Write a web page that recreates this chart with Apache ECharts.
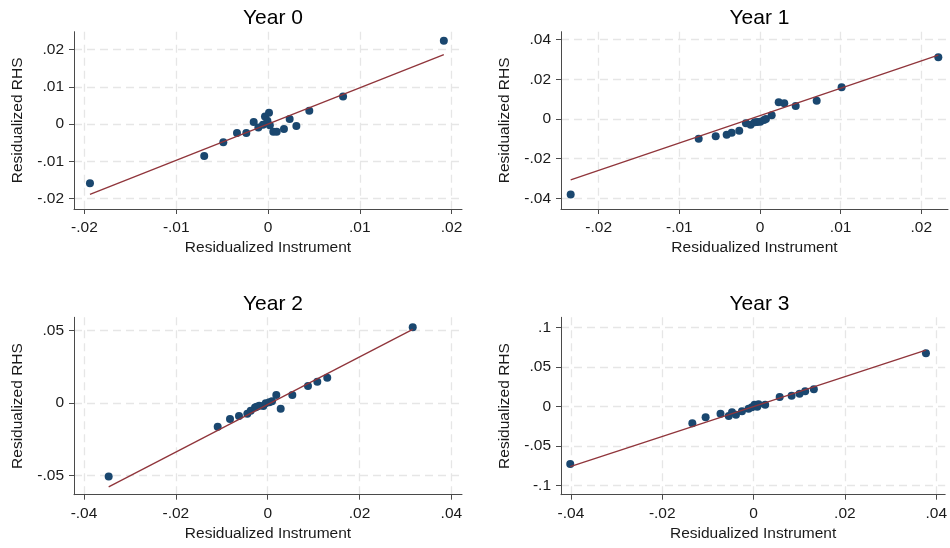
<!DOCTYPE html>
<html>
<head>
<meta charset="utf-8">
<script src="https://cdn.jsdelivr.net/npm/echarts@6/dist/echarts.min.js"></script>
<style>
  html, body { margin: 0; padding: 0; background: #ffffff; }
  #chart { width: 950px; height: 548px; }
</style>
</head>
<body>
<div id="chart"></div>
<script>
// Panel titles
const panelTitles = ['Year 0', 'Year 1', 'Year 2', 'Year 3'];

// Residualized instrument (x) and residualized RHS (y), one pair per year
const yr0X = [-0.0194, -0.00695, -0.00487, -0.00338, -0.00236, -0.00156, -0.00105, -0.00055, -0.00033, -0.00007, 0.00011, 0.0002, 0.00058, 0.00095, 0.00174, 0.00236, 0.00309, 0.0045, 0.00818, 0.01916];
const yr0Y = [-0.0159, -0.00857, -0.00491, -0.00241, -0.00241, 0.00054, -0.00089, -0.0002, 0.00205, 0.00089, 0.00304, -0.0003, -0.00207, -0.00207, -0.00134, 0.00134, -0.00054, 0.00357, 0.00741, 0.0224];

const yr1X = [-0.02347, -0.0076, -0.00549, -0.00413, -0.00351, -0.00257, -0.00174, -0.00116, -0.00066, -0.00033, 0.00004, 0.0005, 0.00074, 0.00145, 0.00232, 0.00301, 0.00443, 0.00703, 0.01012, 0.02211];
const yr1Y = [-0.03815, -0.00993, -0.00872, -0.00792, -0.00691, -0.0059, -0.00217, -0.00287, -0.00166, -0.00151, -0.00136, -0.0005, 0, 0.00187, 0.00842, 0.00792, 0.00656, 0.00923, 0.01597, 0.03109];

const yr2X = [-0.03463, -0.01089, -0.00821, -0.00625, -0.00444, -0.0037, -0.00277, -0.0024, -0.00183, -0.00096, -0.00044, 0.00035, 0.00094, 0.00187, 0.00283, 0.00536, 0.00877, 0.0108, 0.01297, 0.03158];
const yr2Y = [-0.05057, -0.01634, -0.01103, -0.00897, -0.00738, -0.00531, -0.003, -0.00255, -0.00186, -0.00207, -0.0002, 0.00048, 0.00117, 0.00552, -0.00393, 0.00552, 0.01172, 0.01469, 0.01745, 0.05218];

const yr3X = [-0.04015, -0.01341, -0.0105, -0.00724, -0.00543, -0.00472, -0.00385, -0.00254, -0.00109, -0.00037, 0.00022, 0.0008, 0.00109, 0.00254, 0.00572, 0.00833, 0.01007, 0.0113, 0.0132, 0.03775];
const yr3Y = [-0.073, -0.0215, -0.0139, -0.0094, -0.0123, -0.0076, -0.0106, -0.0063, -0.003, -0.0013, 0.002, -0.0005, 0.0025, 0.002, 0.0118, 0.0134, 0.0159, 0.019, 0.0215, 0.0671];

// Linear fit per year: slope and intercept
const fitSlope = [0.973, 1.38, 1.64, 1.896];
const fitIntercept = [0, 0.0017, -0.001, -0.0003];

// Tick values and their labels
const xTicks = [
  [-0.02, -0.01, 0, 0.01, 0.02],
  [-0.02, -0.01, 0, 0.01, 0.02],
  [-0.04, -0.02, 0, 0.02, 0.04],
  [-0.04, -0.02, 0, 0.02, 0.04]
];
const xTickLabels = [
  ['-.02', '-.01', '0', '.01', '.02'],
  ['-.02', '-.01', '0', '.01', '.02'],
  ['-.04', '-.02', '0', '.02', '.04'],
  ['-.04', '-.02', '0', '.02', '.04']
];
const yTicks = [
  [-0.02, -0.01, 0, 0.01, 0.02],
  [-0.04, -0.02, 0, 0.02, 0.04],
  [-0.05, 0, 0.05],
  [-0.1, -0.05, 0, 0.05, 0.1]
];
const yTickLabels = [
  ['-.02', '-.01', '0', '.01', '.02'],
  ['-.04', '-.02', '0', '.02', '.04'],
  ['-.05', '0', '.05'],
  ['-.1', '-.05', '0', '.05', '.1']
];

const xName = 'Residualized Instrument';
const yName = 'Residualized RHS';

const allX = [yr0X, yr1X, yr2X, yr3X];
const allY = [yr0Y, yr1Y, yr2Y, yr3Y];

// Plot regions and axis extents (include Stata-like padding around ticks)
const grids = [
  { left: 74, top: 31.7, width: 388, height: 177.3 },
  { left: 561, top: 31.7, width: 387, height: 177.3 },
  { left: 74, top: 317.3, width: 388, height: 177.4 },
  { left: 561, top: 317.3, width: 387, height: 177.4 }
];
const xRange = [[-0.02114, 0.02114], [-0.02467, 0.02331], [-0.04218, 0.04231], [-0.04217, 0.04196]];
const yRange = [[-0.0228, 0.0248], [-0.0454, 0.0440], [-0.0632, 0.0591], [-0.1119, 0.1127]];

const FONT = '"Liberation Sans", Arial, sans-serif';
const AXIS_COLOR = '#4a4a4a';
const GRID_COLOR = '#e6e6e6';
const DOT_COLOR = '#1a476f';
const FIT_COLOR = '#90353b';

function labelFor(ticks, labels) {
  return function (v) {
    for (let i = 0; i < ticks.length; i++) {
      if (Math.abs(ticks[i] - v) < 1e-9) return labels[i];
    }
    return '';
  };
}

const option = {
  backgroundColor: '#ffffff',
  animation: false,
  title: [],
  grid: [],
  xAxis: [],
  yAxis: [],
  series: []
};

for (let p = 0; p < 4; p++) {
  const g = grids[p];
  option.grid.push({ left: g.left, top: g.top, width: g.width, height: g.height, containLabel: false });
  option.title.push({
    text: panelTitles[p],
    left: g.left + g.width / 2,
    top: g.top - 29,
    textAlign: 'center',
    textStyle: { fontFamily: FONT, fontSize: 21, fontWeight: 'normal', color: '#000000' }
  });

  const axisCommon = {
    type: 'value',
    axisLine: { show: true, onZero: false, lineStyle: { color: AXIS_COLOR, width: 1 } },
    axisTick: { show: true, inside: false, length: 5, lineStyle: { color: AXIS_COLOR, width: 1 } },
    splitLine: { show: true, lineStyle: { color: GRID_COLOR, width: 1.3, type: [8, 5] } },
    nameLocation: 'middle',
    nameTextStyle: { fontFamily: FONT, fontSize: 15.5, color: '#1a1a1a' }
  };

  option.xAxis.push(Object.assign({}, axisCommon, {
    gridIndex: p,
    min: xRange[p][0],
    max: xRange[p][1],
    name: xName,
    nameGap: 31,
    axisTick: Object.assign({}, axisCommon.axisTick, { customValues: xTicks[p] }),
    axisLabel: {
      customValues: xTicks[p],
      formatter: labelFor(xTicks[p], xTickLabels[p]),
      margin: 11,
      fontFamily: FONT, fontSize: 15.5, color: '#1a1a1a'
    }
  }));
  option.yAxis.push(Object.assign({}, axisCommon, {
    gridIndex: p,
    min: yRange[p][0],
    max: yRange[p][1],
    name: yName,
    nameGap: 48,
    axisTick: Object.assign({}, axisCommon.axisTick, { customValues: yTicks[p] }),
    axisLabel: {
      customValues: yTicks[p],
      formatter: labelFor(yTicks[p], yTickLabels[p]),
      margin: 10,
      fontFamily: FONT, fontSize: 15.5, color: '#1a1a1a'
    }
  }));

  const xs = allX[p], ys = allY[p];
  const pts = xs.map((x, i) => [x, ys[i]]);
  option.series.push({
    type: 'scatter',
    xAxisIndex: p, yAxisIndex: p,
    data: pts,
    symbol: 'circle',
    symbolSize: 8,
    itemStyle: { color: DOT_COLOR, opacity: 1 },
    z: 3
  });

  const xmin = Math.min.apply(null, xs), xmax = Math.max.apply(null, xs);
  option.series.push({
    type: 'line',
    xAxisIndex: p, yAxisIndex: p,
    data: [[xmin, fitIntercept[p] + fitSlope[p] * xmin], [xmax, fitIntercept[p] + fitSlope[p] * xmax]],
    showSymbol: false,
    symbol: 'none',
    lineStyle: { color: FIT_COLOR, width: 1.3 },
    z: 4
  });
}

const chart = echarts.init(document.getElementById('chart'), null, { renderer: 'canvas' });
chart.setOption(option);
</script>
</body>
</html>
